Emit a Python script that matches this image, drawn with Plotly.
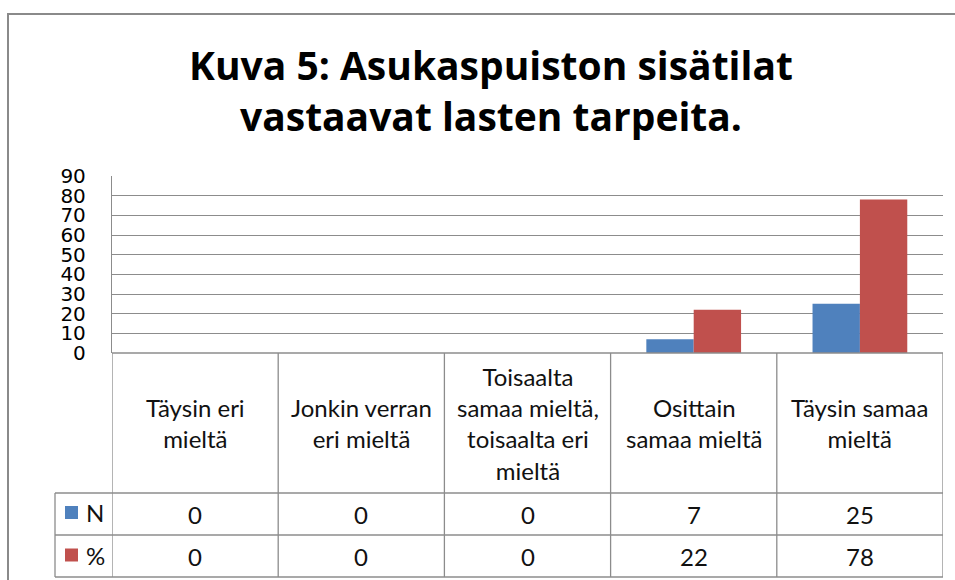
import plotly.graph_objects as go

W, H = 955, 580

title_lines = ["Kuva 5: Asukaspuiston sisätilat", "vastaavat lasten tarpeita."]
categories = ["Täysin eri<br>mieltä", "Jonkin verran<br>eri mieltä",
              "Toisaalta<br>samaa mieltä,<br>toisaalta eri<br>mieltä",
              "Osittain<br>samaa mieltä", "Täysin samaa<br>mieltä"]
series_names = ["N", "%"]
n_values = [0, 0, 0, 7, 25]
pct_values = [0, 0, 0, 22, 78]
colors = ["#4F81BD", "#C0504D"]
y_ticks = [0, 10, 20, 30, 40, 50, 60, 70, 80, 90]


def px_x(p):
    return p / W


def px_y(p):
    return 1 - p / H


cat_keys = [f"c{i}" for i in range(len(categories))]

fig = go.Figure()
for name, vals, col in zip(series_names, [n_values, pct_values], colors):
    fig.add_trace(go.Bar(x=cat_keys, y=vals, name=name, marker_color=col,
                         marker_line_width=0, showlegend=False, hoverinfo="skip"))

GRID = "#8C8C8C"
plot_l, plot_r = 112, 943
plot_t, plot_b = 176, 353
row1, row2, row3 = 493, 535, 577
leg_l = 55

shapes = []
# outer frame
shapes.append(dict(type="rect", xref="paper", yref="paper",
                   x0=px_x(8), x1=px_x(970), y0=px_y(14), y1=px_y(590),
                   line=dict(color="#8A8A8A", width=2), fillcolor="rgba(0,0,0,0)"))
# table verticals at category boundaries
for i in range(len(categories) + 1):
    shapes.append(dict(type="line", xref="x", yref="paper",
                       x0=i - 0.5, x1=i - 0.5, y0=px_y(plot_b), y1=px_y(row3),
                       line=dict(color=GRID, width=1.3)))
# table horizontals
for r in [row1, row2, row3]:
    shapes.append(dict(type="line", xref="paper", yref="paper",
                       x0=px_x(leg_l), x1=px_x(plot_r), y0=px_y(r), y1=px_y(r),
                       line=dict(color=GRID, width=1.3)))
shapes.append(dict(type="line", xref="paper", yref="paper",
                   x0=px_x(plot_l), x1=px_x(plot_r), y0=px_y(plot_b), y1=px_y(plot_b),
                   line=dict(color=GRID, width=1.3)))
shapes.append(dict(type="line", xref="paper", yref="paper",
                   x0=px_x(leg_l), x1=px_x(leg_l), y0=px_y(row1), y1=px_y(row3),
                   line=dict(color=GRID, width=1.3)))
# legend keys
for cy, col in zip([512.5, 555], colors):
    shapes.append(dict(type="rect", xref="paper", yref="paper",
                       x0=px_x(65), x1=px_x(78), y0=px_y(cy + 6.5), y1=px_y(cy - 6.5),
                       line=dict(width=0), fillcolor=col))

LABEL_FONT = dict(family="Lato, Open Sans, sans-serif", size=24, color="#111111")
TITLE_FONT = dict(family="Open Sans, Lato, sans-serif", size=39, color="#000")
annotations = []
for line, cy in zip(title_lines, [64, 115]):
    annotations.append(dict(text=f"<b>{line}</b>", xref="paper", yref="paper",
                            x=px_x(491), y=px_y(cy), showarrow=False, xanchor="center",
                            yanchor="middle", font=TITLE_FONT))
for key, lab in zip(cat_keys, categories):
    annotations.append(dict(text=lab, xref="x", yref="paper", x=key,
                            y=px_y((plot_b + row1) / 2), showarrow=False,
                            xanchor="center", yanchor="middle", align="center",
                            font=LABEL_FONT))
for vals, r0 in zip([n_values, pct_values], [row1, row2]):
    for key, v in zip(cat_keys, vals):
        annotations.append(dict(text=str(v), xref="x", yref="paper", x=key,
                                y=px_y(r0 + 21), showarrow=False,
                                xanchor="center", yanchor="middle", font=LABEL_FONT))
for name, cy in zip(series_names, [512.5, 555]):
    annotations.append(dict(text=name, xref="paper", yref="paper", x=px_x(84),
                            y=px_y(cy), showarrow=False, xanchor="left",
                            yanchor="middle", font=LABEL_FONT))

fig.update_layout(
    width=W, height=H, autosize=False,
    margin=dict(l=0, r=0, t=0, b=0, autoexpand=False),
    paper_bgcolor="white", plot_bgcolor="white",
    barmode="group", bargap=0.43, bargroupgap=0,
    xaxis=dict(domain=[px_x(plot_l), px_x(plot_r)], type="category",
               categoryorder="array", categoryarray=cat_keys,
               range=[-0.5, len(categories) - 0.5],
               showticklabels=False, showgrid=False, zeroline=False, showline=False),
    yaxis=dict(domain=[px_y(plot_b), px_y(plot_t)], range=[0, 90],
               tickvals=y_ticks, ticktext=[str(t) for t in y_ticks],
               showgrid=True, gridcolor=GRID, gridwidth=1.3,
               zeroline=False, showline=True, linecolor=GRID, linewidth=1.3,
               ticks="outside", ticklen=0, ticklabelstandoff=21,
               tickfont=dict(family="DejaVu Sans", size=20, color="#000")),
    shapes=shapes, annotations=annotations,
)

fig.write_html("out.html", config={"displayModeBar": False},
               post_script="document.body.style.margin='0';document.body.style.overflow='hidden';")
